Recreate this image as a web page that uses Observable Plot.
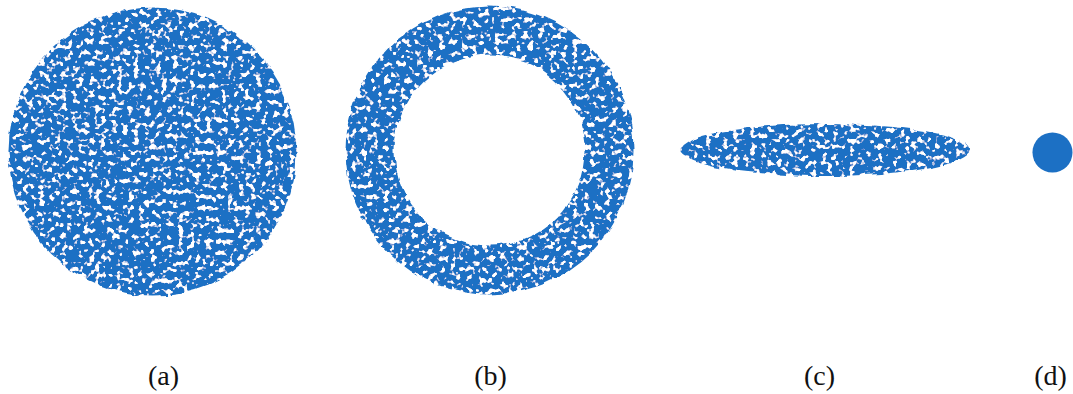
<!DOCTYPE html>
<html>
<head>
<meta charset="utf-8">
<script src="https://cdn.jsdelivr.net/npm/d3@7"></script>
<script src="https://cdn.jsdelivr.net/npm/@observablehq/plot@0.6"></script>
<style>
  html, body { margin: 0; padding: 0; background: #fff; }
  #chart svg { display: block; }
</style>
</head>
<body>
<div id="chart"></div>
<script>
// Four point-cloud shapes: (a) filled disc, (b) ring, (c) flat ellipse, (d) tight cluster.
// Extents are given in layout units (1 unit = 1 px on screen).
const panels   = ["(a)", "(b)", "(c)", "(d)"];
const centerX  = [152, 489, 825, 1052];
const centerY  = [151, 150, 150, 152];
const outerRx  = [144, 144, 145, 20];
const outerRy  = [144, 145, 26, 20];
const innerR   = [0, 95, 0, 0];
const labelX   = [163, 490, 819, 1050];
const labelY   = [376, 376, 376, 376];

const blue = "#1b6fc4";

const shapes = panels.map((p, i) => ({
  panel: p, cx: centerX[i], cy: centerY[i],
  rx: outerRx[i], ry: outerRy[i], rin: innerR[i],
  lx: labelX[i], ly: labelY[i]
}));

const disc    = shapes.filter(d => d.panel === "(a)");
const ring    = shapes.filter(d => d.panel === "(b)");
const flat    = shapes.filter(d => d.panel === "(c)");
const cluster = shapes.filter(d => d.panel === "(d)");
const e = flat[0];

const serif = "'Liberation Serif', 'Times New Roman', Times, serif";

const chart = Plot.plot({
  width: 1073,
  height: 394,
  margin: 0,
  style: {fontFamily: serif, fontSize: "28px", color: "#111"},
  x: {domain: [0, 1073], range: [0, 1073], axis: null},
  y: {domain: [0, 394], range: [0, 394], axis: null},
  r: {type: "identity"},
  marks: [
    Plot.dot(disc, {x: "cx", y: "cy", r: "rx", fill: blue, stroke: null}),
    Plot.dot(ring, {x: "cx", y: "cy", r: d => (d.rx + d.rin) / 2,
                    strokeWidth: d => d.rx - d.rin, stroke: blue, fill: "none"}),
    Plot.rect(flat, {x1: d => d.cx - d.rx, x2: d => d.cx + d.rx,
                     y1: d => d.cy - d.ry, y2: d => d.cy + d.ry,
                     rx: e.rx, ry: e.ry, fill: blue}),
    Plot.dot(cluster, {x: "cx", y: "cy", r: "rx", fill: blue, stroke: null}),
    Plot.text(shapes, {x: "lx", y: "ly", text: "panel", fontSize: 28,
                       fontFamily: serif, fill: "#111"})
  ]
});

// Grainy point texture for the scattered clouds: small white gaps between packed dots
const svg = d3.select(chart);
const defs = svg.insert("defs", ":first-child");
const f = defs.append("filter").attr("id", "speckle")
  .attr("filterUnits", "userSpaceOnUse")
  .attr("x", 0).attr("y", 0).attr("width", 1073).attr("height", 394);
f.append("feTurbulence").attr("type", "fractalNoise").attr("baseFrequency", 0.08)
  .attr("numOctaves", 1).attr("seed", 4).attr("result", "warp");
f.append("feDisplacementMap").attr("in", "SourceGraphic").attr("in2", "warp")
  .attr("scale", 7).attr("xChannelSelector", "R").attr("yChannelSelector", "G")
  .attr("result", "shape");
f.append("feTurbulence").attr("type", "fractalNoise").attr("baseFrequency", 0.18)
  .attr("numOctaves", 2).attr("seed", 11).attr("result", "noise");
f.append("feColorMatrix").attr("in", "noise").attr("type", "matrix")
  .attr("values", "0 0 0 0 1  0 0 0 0 1  0 0 0 0 1  10 0 0 0 -5.6")
  .attr("result", "specks");
f.append("feComposite").attr("in", "specks").attr("in2", "shape")
  .attr("operator", "atop").attr("result", "textured");
f.append("feGaussianBlur").attr("in", "textured").attr("stdDeviation", 0.55);

const groups = chart.querySelectorAll(":scope > g");
[0, 1, 2].forEach(i => groups[i] && groups[i].setAttribute("filter", "url(#speckle)"));
const soft = defs.append("filter").attr("id", "soft");
soft.append("feGaussianBlur").attr("stdDeviation", 0.6);
if (groups[3]) groups[3].setAttribute("filter", "url(#soft)");

document.getElementById("chart").appendChild(chart);
</script>
</body>
</html>
